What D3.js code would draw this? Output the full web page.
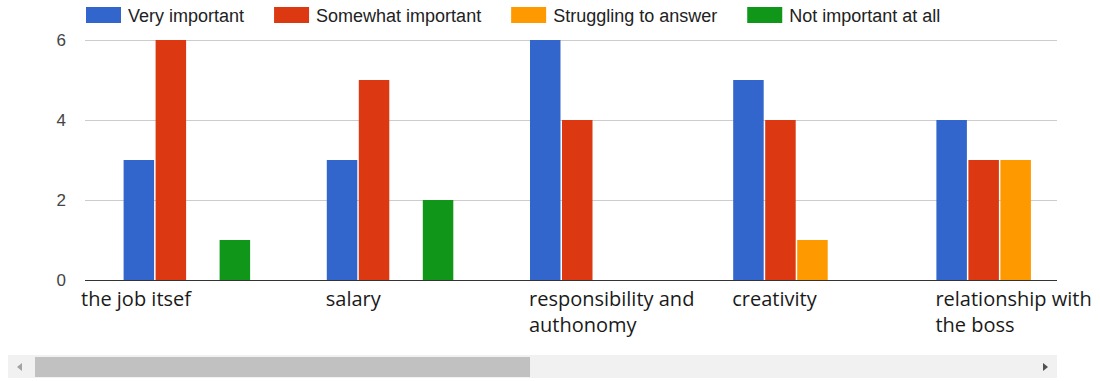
<!DOCTYPE html>
<html>
<head>
<meta charset="utf-8">
<script src="https://cdn.jsdelivr.net/npm/d3@7"></script>
<style>
  html, body { margin: 0; padding: 0; background: #fff; }
  svg { display: block; }
</style>
</head>
<body>
<svg id="chart" width="1100" height="381"></svg>
<script>
// Survey answers: how important each factor is
const categories = [
  ["the job itsef"],
  ["salary"],
  ["responsibility and", "authonomy"],
  ["creativity"],
  ["relationship with", "the boss"]
];
const seriesNames = ["Very important", "Somewhat important", "Struggling to answer", "Not important at all"];
const seriesColors = ["#3366cc", "#dc3912", "#ff9900", "#109618"];
const veryImportant     = [3, 3, 6, 5, 4];
const somewhatImportant = [6, 5, 4, 4, 3];
const struggling        = [0, 0, 0, 1, 3];
const notImportant      = [1, 2, 0, 0, 0];
const yTicks = [0, 2, 4, 6];

const series = [veryImportant, somewhatImportant, struggling, notImportant];
const catKeys = categories.map(c => c.join(" "));

const svg = d3.select("#chart");
svg.append("rect").attr("width", 1100).attr("height", 381).attr("fill", "#fff");

// plot area; the chart is wider than the visible viewport and scrolls horizontally
const plotLeft = 85, viewRight = 1057;
const fullRight = 1102;
const plotTop = 40, plotBottom = 280;

const x0 = d3.scaleBand().domain(catKeys).range([86, fullRight]).paddingInner(0.37).paddingOuter(0.185);
const x1 = d3.scaleBand().domain(d3.range(series.length)).range([0, x0.bandwidth()]);
const y = d3.scaleLinear().domain([0, 6]).range([plotBottom, plotTop]);

svg.append("defs").append("clipPath").attr("id", "view")
  .append("rect").attr("x", plotLeft).attr("y", 0).attr("width", viewRight - plotLeft).attr("height", 381);

// gridlines
svg.append("g").selectAll("line").data(yTicks.filter(t => t > 0)).join("line")
  .attr("x1", plotLeft).attr("x2", viewRight)
  .attr("y1", d => y(d) + 0.5).attr("y2", d => y(d) + 0.5)
  .attr("stroke", "#cccccc").attr("stroke-width", 1);

// y tick labels
svg.append("g").selectAll("text").data(yTicks).join("text")
  .attr("x", 66).attr("y", d => y(d)).attr("dy", "0.38em")
  .attr("text-anchor", "end")
  .attr("font-family", "'Liberation Sans', Arial, sans-serif")
  .attr("font-size", 17).attr("fill", "#444")
  .text(d => d);

// bars
const bars = svg.append("g").attr("clip-path", "url(#view)");
catKeys.forEach((cat, ci) => {
  series.forEach((vals, si) => {
    if (vals[ci] <= 0) return;
    bars.append("rect")
      .attr("x", x0(cat) + x1(si))
      .attr("y", y(vals[ci]))
      .attr("width", x1.bandwidth() - 1.5)
      .attr("height", y(0) - y(vals[ci]))
      .attr("fill", seriesColors[si]);
  });
});

// baseline
svg.append("line")
  .attr("x1", plotLeft).attr("x2", viewRight)
  .attr("y1", y(0) + 0.5).attr("y2", y(0) + 0.5)
  .attr("stroke", "#333").attr("stroke-width", 1.2);

// category labels
const labels = svg.append("g")
  .attr("font-family", "'Open Sans', sans-serif")
  .attr("font-size", 20).attr("fill", "#1a1a1a");
categories.forEach((lines, i) => {
  const lx = i === 0 ? plotLeft - 4 : x0(catKeys[i]) - 1;
  const t = labels.append("text").attr("x", lx).attr("y", 306);
  lines.forEach((ln, k) => {
    t.append("tspan").attr("x", lx).attr("dy", k === 0 ? 0 : 26).text(ln);
  });
});

// legend
const legend = svg.append("g")
  .attr("font-family", "'Liberation Sans', Arial, sans-serif")
  .attr("font-size", 18).attr("fill", "#222");
let legendX = 86;
seriesNames.forEach((name, i) => {
  legend.append("rect").attr("x", legendX).attr("y", 7).attr("width", 35).attr("height", 16)
    .attr("fill", seriesColors[i]);
  const t = legend.append("text").attr("x", legendX + 42).attr("y", 22).text(name);
  legendX += 42 + t.node().getComputedTextLength() + 30;
});

// horizontal scrollbar
const sb = svg.append("g");
sb.append("rect").attr("x", 8).attr("y", 355).attr("width", 1049).attr("height", 23).attr("fill", "#f1f1f1");
sb.append("rect").attr("x", 35).attr("y", 357).attr("width", 495).attr("height", 20).attr("fill", "#c1c1c1");
sb.append("path").attr("d", "M17,367 L22,363 L22,371 Z").attr("fill", "#a3a3a3");
sb.append("path").attr("d", "M1048,367 L1043,363 L1043,371 Z").attr("fill", "#505050");
</script>
</body>
</html>
